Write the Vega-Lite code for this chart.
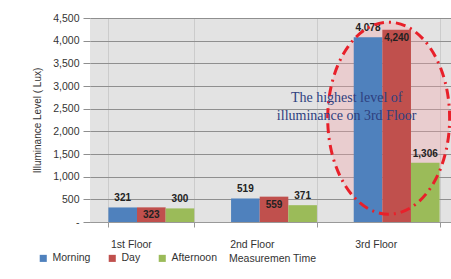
{
  "$schema": "https://vega.github.io/schema/vega-lite/v6.json",
  "width": 368,
  "height": 204,
  "autosize": {"type": "none"},
  "padding": {"left": 90, "top": 18, "right": 0, "bottom": 57},
  "background": "white",
  "config": {
    "font": "Liberation Sans",
    "view": {"fill": "#e3e3e3", "stroke": null},
    "axis": {"labelColor": "#333333", "titleColor": "#333333", "labelFontSize": 10, "titleFontSize": 10, "titleFontWeight": "normal"},
    "axisY": {"tickCount": 10, "labelOverlap": false}
  },
  "datasets": {
    "bars": [
      {"floor": "1st Floor", "time": "Morning", "lux": 321},
      {"floor": "1st Floor", "time": "Day", "lux": 323},
      {"floor": "1st Floor", "time": "Afternoon", "lux": 300},
      {"floor": "2nd Floor", "time": "Morning", "lux": 519},
      {"floor": "2nd Floor", "time": "Day", "lux": 559},
      {"floor": "2nd Floor", "time": "Afternoon", "lux": 371},
      {"floor": "3rd Floor", "time": "Morning", "lux": 4078},
      {"floor": "3rd Floor", "time": "Day", "lux": 4240},
      {"floor": "3rd Floor", "time": "Afternoon", "lux": 1306}
    ],
    "note": [
      {"floor": "3rd Floor", "lux": 2290, "label": ["The highest level of", "illuminance on 3rd Floor"], "ly": 2740}
    ]
  },
  "layer": [
    {
      "data": {"name": "note"},
      "mark": {"type": "point", "shape": "M -0.635 0 A 0.635 1 0 1 1 0.635 0 A 0.635 1 0 1 1 -0.635 0 Z", "size": 36864, "filled": true, "fill": "#f4a3a8", "fillOpacity": 0.35, "strokeWidth": 0, "xOffset": -8},
      "encoding": {
        "x": {"field": "floor", "type": "nominal"},
        "y": {"field": "lux", "type": "quantitative"}
      }
    },
    {
      "data": {"name": "bars"},
      "mark": {"type": "bar"},
      "encoding": {
        "x": {"field": "floor", "type": "nominal", "sort": null,
          "scale": {"paddingInner": 0.3, "paddingOuter": 0.15},
          "axis": {"title": "Measuremen Time", "labelAngle": 0, "labelPadding": 17, "tickSize": 5, "tickColor": "#999999", "domainColor": "#999999", "grid": true, "gridColor": "#cccccc", "tickBand": "extent", "titleX": 182, "titleY": 31, "titleBaseline": "top", "labelFontSize": 10.5, "titleFontSize": 10.5}},
        "xOffset": {"field": "time", "type": "nominal", "sort": ["Morning", "Day", "Afternoon"]},
        "y": {"field": "lux", "type": "quantitative",
          "scale": {"domain": [0, 4500], "nice": false},
          "axis": {"title": "Illuminance Level ( Lux)", "tickCount": 10, "values": [0, 500, 1000, 1500, 2000, 2500, 3000, 3500, 4000, 4500], "labelOverlap": false, "labelExpr": "datum.value == 0 ? '-' : format(datum.value, ',')", "gridColor": "#8f8f8f", "tickColor": "#8f8f8f", "domain": false, "tickSize": 7, "labelPadding": 4, "titlePadding": 10, "labelFontSize": 10.5}},
        "color": {"field": "time", "type": "nominal", "sort": ["Morning", "Day", "Afternoon"],
          "scale": {"domain": ["Morning", "Day", "Afternoon"], "range": ["#4f81bd", "#c0504d", "#9bbb59"]},
          "legend": {"title": null, "orient": "none", "direction": "horizontal", "legendX": -52, "legendY": 235, "symbolType": "square", "symbolSize": 50, "symbolStrokeWidth": 0, "labelFontSize": 10.5, "labelColor": "#333333", "columnPadding": 16}}
      }
    },
    {
      "data": {"name": "bars"},
      "transform": [{"filter": "datum.time != 'Day'"}],
      "mark": {"type": "text", "baseline": "bottom", "dy": -4, "fontWeight": "bold", "fontSize": 10, "color": "#222222"},
      "encoding": {
        "x": {"field": "floor", "type": "nominal", "sort": null},
        "xOffset": {"field": "time", "type": "nominal", "sort": ["Morning", "Day", "Afternoon"]},
        "y": {"field": "lux", "type": "quantitative"},
        "text": {"field": "lux", "type": "quantitative", "format": ","}
      }
    },
    {
      "data": {"name": "bars"},
      "transform": [{"filter": "datum.time == 'Day'"}],
      "mark": {"type": "text", "baseline": "middle", "dy": 8, "fontWeight": "bold", "fontSize": 10, "color": "#222222"},
      "encoding": {
        "x": {"field": "floor", "type": "nominal", "sort": null},
        "xOffset": {"field": "time", "type": "nominal", "sort": ["Morning", "Day", "Afternoon"]},
        "y": {"field": "lux", "type": "quantitative"},
        "text": {"field": "lux", "type": "quantitative", "format": ","}
      }
    },
    {
      "data": {"name": "note"},
      "mark": {"type": "point", "shape": "M -0.635 0 A 0.635 1 0 1 1 0.635 0 A 0.635 1 0 1 1 -0.635 0 Z", "size": 36864, "filled": false, "stroke": "#e8202a", "strokeWidth": 3, "strokeDash": [10, 5, 2, 5], "opacity": 1, "xOffset": -8},
      "encoding": {
        "x": {"field": "floor", "type": "nominal"},
        "y": {"field": "lux", "type": "quantitative"}
      }
    },
    {
      "data": {"name": "note"},
      "mark": {"type": "text", "font": "Liberation Serif", "fontSize": 14, "color": "#2e3f7f", "xOffset": -50, "lineHeight": 18, "baseline": "middle"},
      "encoding": {
        "x": {"field": "floor", "type": "nominal"},
        "y": {"field": "ly", "type": "quantitative"},
        "text": {"field": "label"}
      }
    }
  ]
}
